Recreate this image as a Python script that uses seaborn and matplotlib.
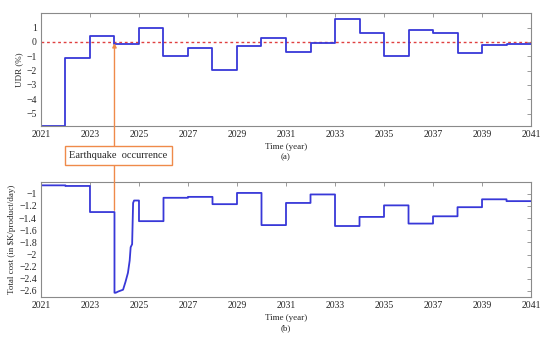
import numpy as np
import pandas as pd
import seaborn as sns
import matplotlib
matplotlib.use("Agg")
import matplotlib.pyplot as plt
from matplotlib.patches import ConnectionPatch

# --- data ---
years = list(range(2021, 2041))
udr = [-5.85, -1.15, 0.42, -0.13, 0.97, -1.0, -0.4, -1.97, -0.28, 0.3,
       -0.68, -0.05, 1.57, 0.64, -0.99, 0.82, 0.61, -0.75, -0.23, -0.13]

cost = [-0.86, -0.87, -1.30, None, -1.45, -1.065, -1.05, -1.17, -0.985, -1.515,
        -1.15, -1.01, -1.53, -1.38, -1.19, -1.49, -1.37, -1.22, -1.09, -1.12]
# recovery curve after the earthquake (year 2024)
dip_x = [2024.0, 2024.05, 2024.15, 2024.35, 2024.45, 2024.55, 2024.62,
         2024.66, 2024.72, 2024.76, 2024.8, 2024.97, 2025.0]
dip_y = [-2.63, -2.63, -2.61, -2.58, -2.45, -2.30, -2.10,
         -1.88, -1.83, -1.15, -1.11, -1.11, -1.11]
quake_year = 2024

xticks = list(range(2021, 2042, 2))


def expand_steps(starts, vals, fill_x=None, fill_y=None):
    xs, ys = [], []
    for s, v in zip(starts, vals):
        if v is None:
            xs += fill_x
            ys += fill_y
        else:
            xs += [s, s + 1]
            ys += [v, v]
    return pd.DataFrame({"x": xs, "y": ys})


top_df = expand_steps(years, udr)
bot_df = expand_steps(years, cost, dip_x, dip_y)

sns.set_theme(style="white")
plt.rcParams["font.family"] = ["Liberation Serif", "DejaVu Serif"]
plt.rcParams["axes.unicode_minus"] = True

blue = "#3838d8"
orange = "#ef8a4a"
gray = "#8a8a8a"

fig = plt.figure(figsize=(5.5, 3.39), dpi=100)
ax1 = fig.add_axes([0.0745, 0.628, 0.891, 0.3337])
ax2 = fig.add_axes([0.0745, 0.1239, 0.891, 0.3383])

sns.lineplot(data=top_df, x="x", y="y", ax=ax1, color=blue, lw=1.3,
             sort=False, estimator=None)
ax1.axhline(0, color="#e04040", ls=(0, (2, 2)), lw=1.0, zorder=1)
sns.lineplot(data=bot_df, x="x", y="y", ax=ax2, color=blue, lw=1.3,
             sort=False, estimator=None)

ax1.set_ylim(-5.88, 2.02)
ax1.set_yticks(range(-5, 2))
ax2.set_ylim(-2.7, -0.81)
ax2.set_yticks(np.round(np.arange(-2.6, -0.99, 0.2), 1))

for ax in (ax1, ax2):
    ax.set_xlim(2021, 2041)
    ax.set_xticks(xticks)
    ax.set_xticklabels([str(t) for t in xticks])
    ax.set_yticklabels([f"{t:g}".replace("-", "\u2212") for t in ax.get_yticks()])
    ax.tick_params(direction="in", length=3, width=0.6, color=gray,
                   labelsize=7, top=True, right=True, pad=3)
    for sp in ax.spines.values():
        sp.set_color(gray)
        sp.set_linewidth(0.8)

ax1.set_xlabel("Time (year)\n(a)", fontsize=6.5, labelpad=3, linespacing=1.3)
ax1.set_ylabel("UDR (%)", fontsize=6.5, labelpad=2)
ax2.set_xlabel("Time (year)\n(b)", fontsize=6.5, labelpad=3, linespacing=1.3)
ax2.set_ylabel("Total cost (in \\$K/product/day)", fontsize=6.5, labelpad=2)

con = ConnectionPatch(xyA=(quake_year, -1.27), coordsA=ax2.transData,
                      xyB=(quake_year, -0.08), coordsB=ax1.transData,
                      arrowstyle="-|>", mutation_scale=6, color=orange, lw=1.0)
fig.add_artist(con)
fig.text(0.2153, 0.5413, "Earthquake  occurrence", ha="center", va="center",
         fontsize=7.5, zorder=10,
         bbox=dict(boxstyle="square,pad=0.45", fc="white", ec=orange, lw=1.0))

fig.savefig("out.png", dpi=100)
